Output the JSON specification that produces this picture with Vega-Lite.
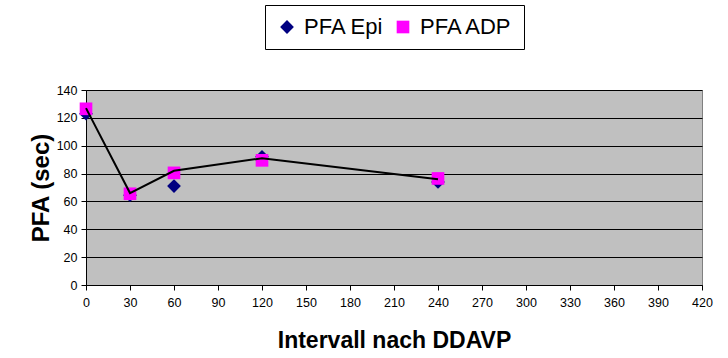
{
  "$schema": "https://vega.github.io/schema/vega-lite/v6.json",
  "width": 616,
  "height": 195,
  "autosize": {"type": "none"},
  "padding": {"left": 86, "top": 90, "right": 26, "bottom": 73},
  "background": "white",
  "config": {
    "font": "Liberation Sans",
    "view": {"fill": "#C0C0C0", "stroke": "#808080", "strokeWidth": 1}
  },
  "datasets": {
    "punkte": [
      {"t": 0, "serie": "PFA Epi", "pfa": 123},
      {"t": 30, "serie": "PFA Epi", "pfa": 64.5},
      {"t": 60, "serie": "PFA Epi", "pfa": 71},
      {"t": 120, "serie": "PFA Epi", "pfa": 92},
      {"t": 240, "serie": "PFA Epi", "pfa": 74},
      {"t": 0, "serie": "PFA ADP", "pfa": 126.5},
      {"t": 30, "serie": "PFA ADP", "pfa": 65.5},
      {"t": 60, "serie": "PFA ADP", "pfa": 80.5},
      {"t": 120, "serie": "PFA ADP", "pfa": 89.5},
      {"t": 240, "serie": "PFA ADP", "pfa": 76.5}
    ],
    "linie": [
      {"t": 0, "pfa": 127},
      {"t": 30, "pfa": 66},
      {"t": 60, "pfa": 82},
      {"t": 120, "pfa": 91},
      {"t": 240, "pfa": 76}
    ]
  },
  "encoding": {
    "x": {
      "field": "t",
      "type": "quantitative",
      "scale": {"domain": [0, 420], "nice": false, "zero": true},
      "axis": {
        "title": "Intervall nach DDAVP",
        "values": [0, 30, 60, 90, 120, 150, 180, 210, 240, 270, 300, 330, 360, 390, 420],
        "grid": false,
        "domainColor": "black",
        "tickColor": "black",
        "tickSize": 5,
        "labelFontSize": 12.5,
        "labelColor": "black",
        "labelPadding": 6,
        "labelFlush": false,
        "titleFontSize": 23,
        "titleFontWeight": "bold",
        "titleColor": "black",
        "titlePadding": 21
      }
    },
    "y": {
      "field": "pfa",
      "type": "quantitative",
      "scale": {"domain": [0, 140], "nice": false},
      "axis": {
        "title": "PFA (sec)",
        "values": [0, 20, 40, 60, 80, 100, 120, 140],
        "grid": true,
        "gridColor": "black",
        "gridOpacity": 1,
        "gridWidth": 1,
        "domainColor": "black",
        "tickColor": "black",
        "tickSize": 5,
        "labelFontSize": 12.5,
        "labelColor": "black",
        "labelPadding": 4,
        "labelFlush": false,
        "titleFontSize": 24,
        "titleFontWeight": "bold",
        "titleColor": "black",
        "titlePadding": 3
      }
    }
  },
  "layer": [
    {
      "data": {"name": "punkte"},
      "mark": {"type": "point", "filled": true, "opacity": 1},
      "encoding": {
        "color": {
          "field": "serie",
          "type": "nominal",
          "scale": {"domain": ["PFA Epi", "PFA ADP"], "range": ["#000080", "#FF00FF"]},
          "legend": {
            "title": null,
            "orient": "none",
            "direction": "horizontal",
            "legendX": 179,
            "legendY": -85,
            "strokeColor": "black",
            "fillColor": "white",
            "padding": 11,
            "labelFontSize": 22,
            "labelColor": "black",
            "labelOffset": 6,
            "columnPadding": 8,
            "symbolOpacity": 1,
            "encode": {"symbols": {"update": {"size": {"value": 95}}}}
          }
        },
        "shape": {
          "field": "serie",
          "type": "nominal",
          "scale": {"domain": ["PFA Epi", "PFA ADP"], "range": ["diamond", "square"]}
        },
        "size": {
          "field": "serie",
          "type": "nominal",
          "scale": {"domain": ["PFA Epi", "PFA ADP"], "range": [190, 160]},
          "legend": null
        },
        "order": {"field": "serie", "sort": "descending"}
      }
    },
    {
      "data": {"name": "linie"},
      "mark": {"type": "line", "color": "black", "strokeWidth": 2},
      "encoding": {}
    }
  ]
}
